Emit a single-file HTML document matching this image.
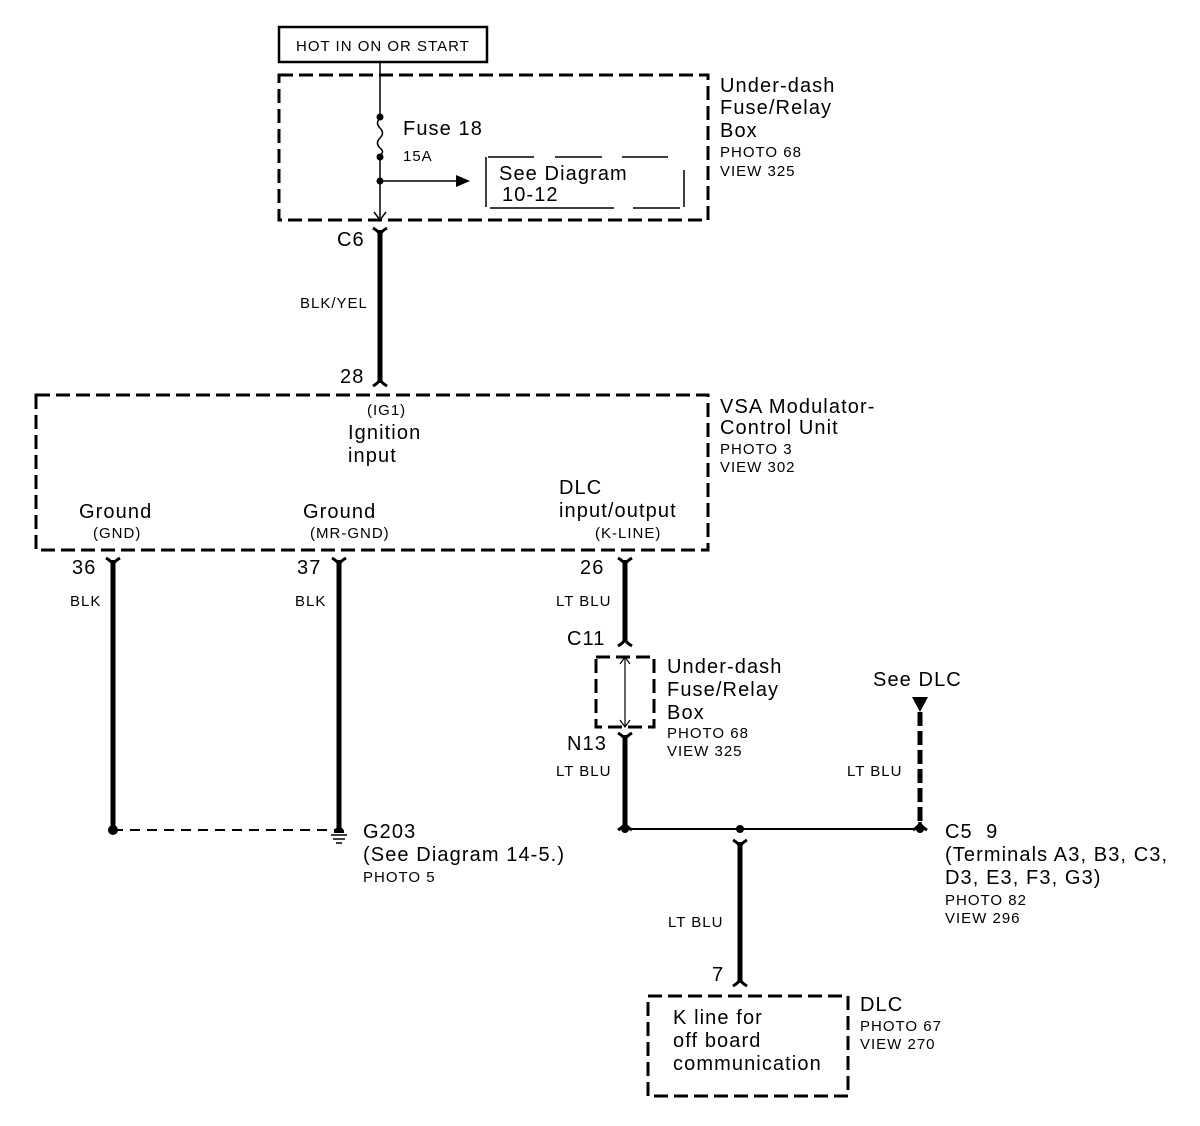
<!DOCTYPE html>
<html><head><meta charset="utf-8"><style>
html,body{margin:0;padding:0;background:#fff}
svg{display:block}
text{font-family:"Liberation Sans",Arial,sans-serif;fill:#000}
.b{font-size:20px;letter-spacing:1.1px}
.s{font-size:15px;letter-spacing:1px}
</style></head><body>
<svg width="1200" height="1126" viewBox="0 0 1200 1126" xmlns="http://www.w3.org/2000/svg">
<g fill="none" stroke="#000">
<rect x="279" y="27" width="208" height="35" stroke-width="2.5"/>
<rect x="279" y="75" width="429" height="145" stroke-width="3" stroke-dasharray="14,6"/>
<rect x="36" y="395" width="672" height="155" stroke-width="3" stroke-dasharray="14,6"/>
<rect x="596" y="657" width="58" height="70" stroke-width="3" stroke-dasharray="14,6"/>
<rect x="648" y="996" width="200" height="100" stroke-width="3" stroke-dasharray="14,6"/>
<path d="M380 62V118M380 155V218" stroke-width="1.5"/>
<path d="M380 118 q-5 5 0 10 q5 5 0 10 q-5 5 0 10 q5 4 0 7" stroke-width="1.5"/>
<path d="M380 181H458" stroke-width="1.5"/>
<path d="M374 212L380 220L386 212" stroke-width="1.5"/>
<path d="M486 157V207M488 157H534M555 157H602M622 157H668M490 208H614M633 208H680M684 170V207" stroke-width="1.5"/>
<path d="M380 230V383M113 560V832M339 560V832M625 560V642M625 735V826M740 842V983" stroke-width="5"/>
<path d="M920 712V826" stroke-width="5" stroke-dasharray="14,5"/>
<path d="M373 228Q380 232 380 236Q380 232 387 228M106 558Q113 562 113 566Q113 562 120 558M332 558Q339 562 339 566Q339 562 346 558M618 558Q625 562 625 566Q625 562 632 558M618 733Q625 737 625 741Q625 737 632 733M733 840Q740 844 740 848Q740 844 747 840" stroke-width="3"/>
<path d="M373 386Q380 382 380 378Q380 382 387 386M618 646Q625 642 625 638Q625 642 632 646M618 830Q625 826 625 822Q625 826 632 830M913 830Q920 826 920 822Q920 826 927 830M733 986Q740 982 740 978Q740 982 747 986" stroke-width="3"/>
<path d="M625 657V727M620 664L625 657L630 664M620 720L625 727L630 720" stroke-width="1.2"/>
<path d="M625 829H920" stroke-width="2"/>
<path d="M113 830H335" stroke-width="2" stroke-dasharray="10,7"/>
<path d="M331 835H347M333 839H345M336 843H342" stroke-width="1.5"/>
</g>
<g fill="#000">
<circle cx="380" cy="117" r="3.5"/><circle cx="380" cy="157" r="3.5"/><circle cx="380" cy="181" r="3.5"/>
<path d="M456 175L470 181L456 187Z"/>
<circle cx="113" cy="830" r="5"/>
<path d="M334 832a5 5 0 0 1 10 0Z"/><rect x="334" y="830" width="10" height="3"/>
<circle cx="625" cy="829" r="4"/><circle cx="740" cy="829" r="4"/><circle cx="920" cy="829" r="4"/>
<path d="M912 697H928L920 712Z"/>
</g>
<text class="s" x="296" y="51">HOT IN ON OR START</text>
<text class="b" x="403" y="135">Fuse 18</text>
<text class="s" x="403" y="161">15A</text>
<text class="b" x="499" y="180">See Diagram</text>
<text class="b" x="502" y="201">10-12</text>
<text class="b" x="720" y="92">Under-dash</text>
<text class="b" x="720" y="114">Fuse/Relay</text>
<text class="b" x="720" y="137">Box</text>
<text class="s" x="720" y="157">PHOTO 68</text>
<text class="s" x="720" y="176">VIEW 325</text>
<text class="b" x="337" y="246">C6</text>
<text class="s" x="300" y="308">BLK/YEL</text>
<text class="b" x="340" y="383">28</text>
<text class="s" x="367" y="415">(IG1)</text>
<text class="b" x="348" y="439">Ignition</text>
<text class="b" x="348" y="462">input</text>
<text class="b" x="79" y="518">Ground</text>
<text class="s" x="93" y="538">(GND)</text>
<text class="b" x="303" y="518">Ground</text>
<text class="s" x="310" y="538">(MR-GND)</text>
<text class="b" x="559" y="494">DLC</text>
<text class="b" x="559" y="517">input/output</text>
<text class="s" x="595" y="538">(K-LINE)</text>
<text class="b" x="720" y="413">VSA Modulator-</text>
<text class="b" x="720" y="434">Control Unit</text>
<text class="s" x="720" y="454">PHOTO 3</text>
<text class="s" x="720" y="472">VIEW 302</text>
<text class="b" x="72" y="574">36</text>
<text class="s" x="70" y="606">BLK</text>
<text class="b" x="297" y="574">37</text>
<text class="s" x="295" y="606">BLK</text>
<text class="b" x="580" y="574">26</text>
<text class="s" x="556" y="606">LT BLU</text>
<text class="b" x="567" y="645">C11</text>
<text class="b" x="667" y="673">Under-dash</text>
<text class="b" x="667" y="696">Fuse/Relay</text>
<text class="b" x="667" y="719">Box</text>
<text class="s" x="667" y="738">PHOTO 68</text>
<text class="s" x="667" y="756">VIEW 325</text>
<text class="b" x="567" y="750">N13</text>
<text class="s" x="556" y="776">LT BLU</text>
<text class="b" x="873" y="686">See DLC</text>
<text class="s" x="847" y="776">LT BLU</text>
<text class="b" x="363" y="838">G203</text>
<text class="b" x="363" y="861">(See Diagram 14-5.)</text>
<text class="s" x="363" y="882">PHOTO 5</text>
<text class="b" x="945" y="838">C5&#160;&#160;9</text>
<text class="b" x="945" y="861">(Terminals A3, B3, C3,</text>
<text class="b" x="945" y="884">D3, E3, F3, G3)</text>
<text class="s" x="945" y="905">PHOTO 82</text>
<text class="s" x="945" y="923">VIEW 296</text>
<text class="s" x="668" y="927">LT BLU</text>
<text class="b" x="712" y="981">7</text>
<text class="b" x="673" y="1024">K line for</text>
<text class="b" x="673" y="1047">off board</text>
<text class="b" x="673" y="1070">communication</text>
<text class="b" x="860" y="1011">DLC</text>
<text class="s" x="860" y="1031">PHOTO 67</text>
<text class="s" x="860" y="1049">VIEW 270</text>
</svg>
</body></html>
